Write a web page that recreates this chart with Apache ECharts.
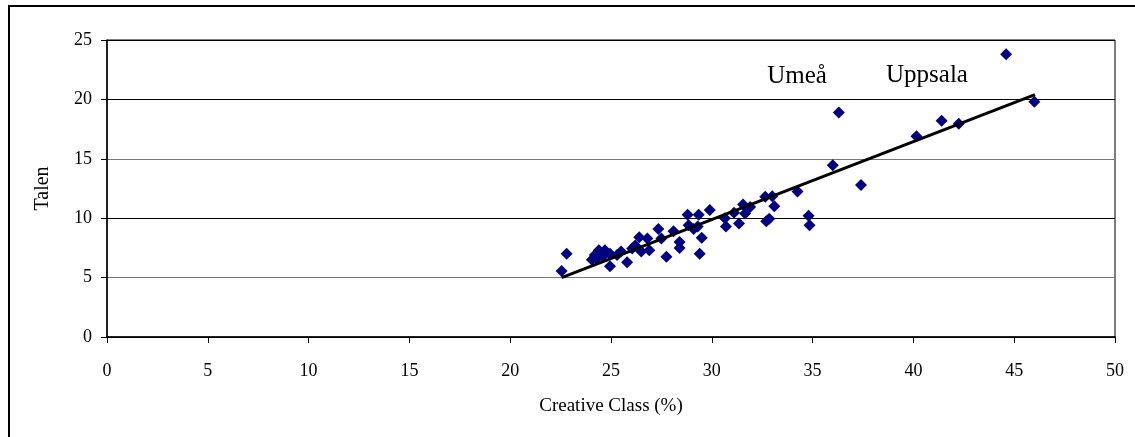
<!DOCTYPE html>
<html>
<head>
<meta charset="utf-8">
<script src="https://cdn.jsdelivr.net/npm/echarts@6/dist/echarts.min.js"></script>
<style>
  html, body { margin: 0; padding: 0; background: #fff; }
  #chart { width: 1135px; height: 437px; }
</style>
</head>
<body>
<div id="chart"></div>
<script>
// creative class share (%) per region
var creativeX = [22.55, 22.8, 24.05, 24.2, 24.3, 24.4, 24.55, 24.7, 24.95, 24.95, 24.6, 25.3,
  25.5, 25.8, 26.05, 26.2, 26.4, 26.5, 26.8, 26.9, 27.35, 27.5, 27.75, 28.1, 28.4, 28.4,
  28.8, 28.85, 29.1, 29.35, 29.3, 29.5, 29.4, 29.9, 30.65, 30.7, 31.1, 31.35, 31.55, 31.65,
  31.9, 32.65, 33.0, 33.1, 32.7, 32.85, 34.25, 34.8, 34.85, 36.0, 36.3, 37.4, 40.15, 41.4,
  42.25, 44.6, 46.0]
// talent index per region
var talentY = [5.55, 7.0, 6.5, 6.9, 6.6, 7.3, 7.0, 7.3, 7.0, 5.95, 6.8, 6.9,
  7.2, 6.3, 7.45, 7.7, 8.4, 7.2, 8.3, 7.3, 9.1, 8.3, 6.75, 8.9, 8.0, 7.5,
  10.3, 9.4, 9.1, 10.3, 9.3, 8.35, 7.0, 10.7, 10.0, 9.3, 10.45, 9.55, 11.15, 10.4,
  10.95, 11.8, 11.85, 11.0, 9.75, 9.95, 12.25, 10.2, 9.4, 14.45, 18.9, 12.8, 16.9, 18.2,
  17.95, 23.8, 19.8]
// trend line end points
var trendX = [22.55, 46.03]
var trendY = [5.0, 20.4]
var xTicks = [0, 5, 10, 15, 20, 25, 30, 35, 40, 45, 50]
var yTicks = [0, 5, 10, 15, 20, 25]

var points = creativeX.map(function (x, i) { return [x, talentY[i]] })
var trend = trendX.map(function (x, i) { return [x, trendY[i]] })

var font = '"Liberation Serif", "DejaVu Serif", serif'
var chart = echarts.init(document.getElementById('chart'))
chart.setOption({
  animation: false,
  backgroundColor: '#fff',
  grid: { left: 107, right: 20, top: 40, bottom: 100, show: true, borderColor: '#000', borderWidth: 1 },
  xAxis: {
    type: 'value',
    min: xTicks[0],
    max: xTicks[xTicks.length - 1],
    interval: 5,
    name: 'Creative Class (%)',
    nameLocation: 'middle',
    nameGap: 60,
    nameTextStyle: { fontFamily: font, fontSize: 19, color: '#000' },
    axisLine: { lineStyle: { color: '#000', width: 1.5 } },
    axisTick: { show: true, length: 6, lineStyle: { color: '#000' } },
    axisLabel: { margin: 25, fontFamily: font, fontSize: 18, color: '#000' },
    splitLine: { show: false }
  },
  yAxis: {
    type: 'value',
    min: yTicks[0],
    max: yTicks[yTicks.length - 1],
    interval: 5,
    name: 'Talen',
    nameLocation: 'middle',
    nameGap: 54,
    nameTextStyle: { fontFamily: font, fontSize: 20, color: '#000' },
    axisLine: { show: true, lineStyle: { color: '#000', width: 1.5 } },
    axisTick: { show: true, length: 6, lineStyle: { color: '#000' } },
    axisLabel: { margin: 15, fontFamily: font, fontSize: 18, color: '#000' },
    splitLine: { show: true, lineStyle: { color: ['#000', '#777', '#000', '#777', '#000', '#000'], width: 1 } }
  },
  graphic: [
    { type: 'rect', shape: { x: 9, y: 6, width: 1140, height: 450 }, style: { fill: 'none', stroke: '#000', lineWidth: 2 }, silent: true },
    { type: 'text', x: 797, y: 89, style: { text: 'Umeå', fontFamily: font, fontSize: 25, fill: '#000', textAlign: 'center', textVerticalAlign: 'bottom' } },
    { type: 'text', x: 927, y: 88, style: { text: 'Uppsala', fontFamily: font, fontSize: 25, fill: '#000', textAlign: 'center', textVerticalAlign: 'bottom' } }
  ],
  series: [
    {
      type: 'scatter',
      data: points,
      symbol: 'diamond',
      symbolSize: 12,
      itemStyle: { color: '#000080', opacity: 1 }
    },
    {
      type: 'line',
      data: trend,
      symbol: 'none',
      lineStyle: { color: '#000', width: 3 }
    }
  ]
})
</script>
</body>
</html>
